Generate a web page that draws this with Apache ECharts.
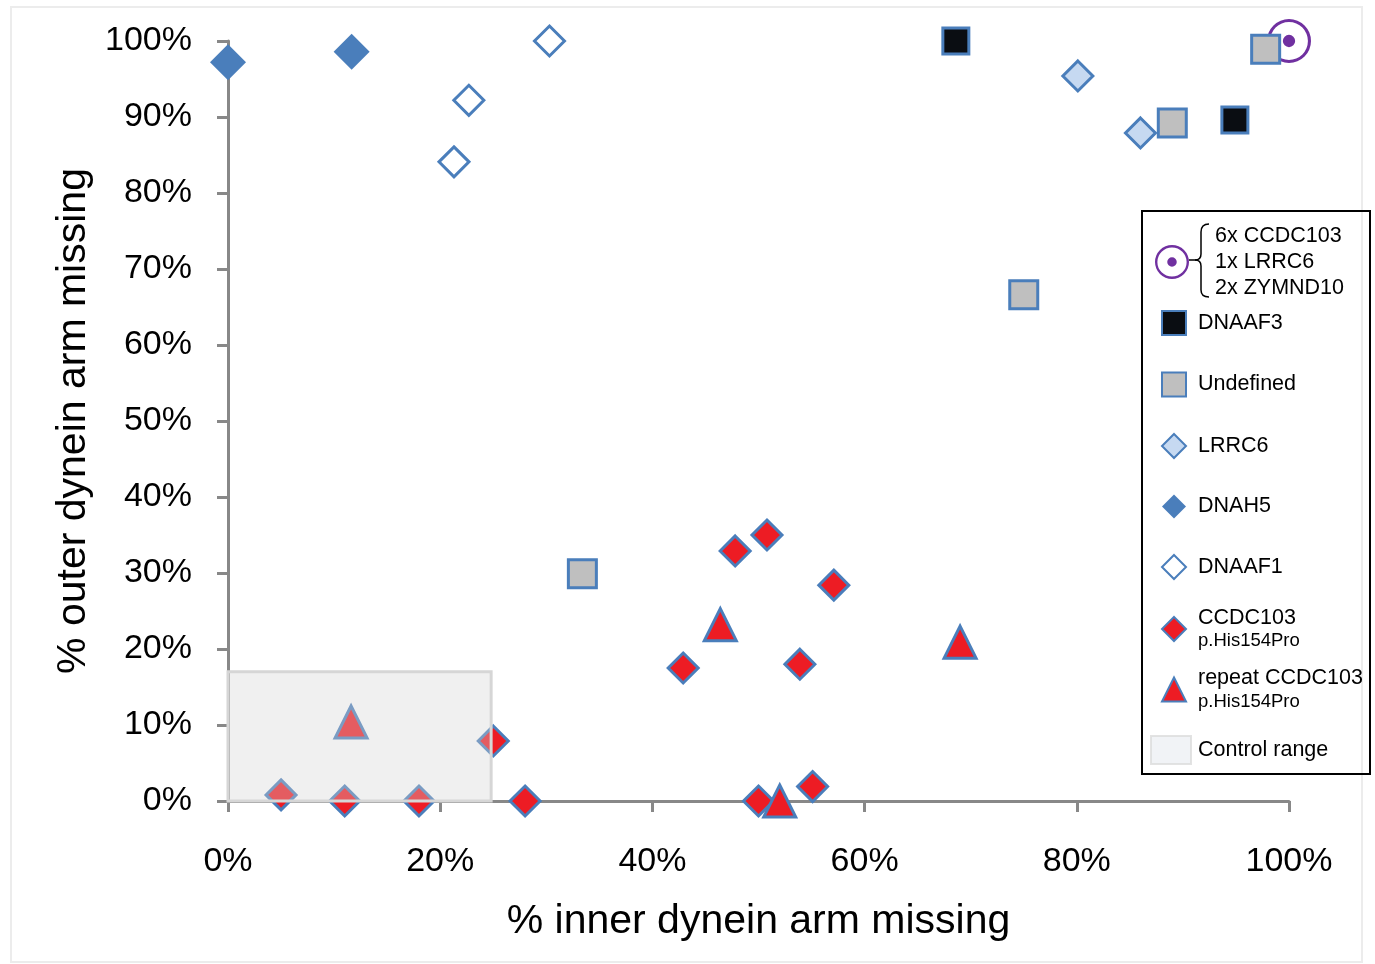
<!DOCTYPE html>
<html style="height: 100%">
<head>
<meta charset="utf-8">
</head>
<body style="height: 100%; margin: 0; background: #fff">
	<div id="container" style="width: 1375px; height: 964px"></div>
	<script type="text/javascript" src="https://cdn.jsdelivr.net/npm/echarts@6/dist/echarts.min.js"></script>
	<script type="text/javascript">
		// points as [inner % missing, outer % missing]
		var ringPts = [[100, 100]];
		var dnaaf3Pts = [[68.6, 100], [94.9, 89.6]];
		var undefinedPts = [[97.8, 98.9], [89.0, 89.2], [75.0, 66.6], [33.4, 29.9]];
		var lrrc6Pts = [[80.1, 95.4], [86.0, 87.9]];
		var dnah5Pts = [[0, 97.2], [11.65, 98.6]];
		var dnaaf1Pts = [[30.3, 100], [22.7, 92.2], [21.3, 84.1]];
		var ccdc103Pts = [[5.0, 0.8], [11.0, 0], [18.0, 0], [25.0, 7.9], [28.0, 0], [42.9, 17.5],
			[47.8, 32.9], [50.8, 35.0], [57.1, 28.4], [53.9, 18.0], [50.0, 0], [55.1, 1.9]];
		var repeatPts = [[11.6, 10.4], [46.4, 23.2], [69.0, 20.9], [52.0, 0]];
		var controlX = [0, 24.8];
		var controlY = [0, 17.0];
		var ringLines = ['6x CCDC103', '1x LRRC6', '2x ZYMND10'];

		var FONT = '"Liberation Sans", Arial, sans-serif';
		var BLUE = '#4a7ebb';
		var RED = '#ed1c24';
		var RING = 'path://M0,50 A50,50 0 1 1 100,50 A50,50 0 1 1 0,50 Z M7,50 A43,43 0 1 0 93,50 A43,43 0 1 0 7,50 Z M36,50 A14,14 0 1 1 64,50 A14,14 0 1 1 36,50 Z';

		var dom = document.getElementById("container");
		var myChart = echarts.init(dom);

		function scatter(name, data, symbol, size, color, border, z) {
			return {
				name: name,
				type: 'scatter',
				data: data,
				symbol: symbol,
				symbolSize: size,
				clip: false,
				z: z || 2,
				itemStyle: {
					color: color,
					borderColor: border === 'none' ? color : BLUE,
					borderWidth: border === 'none' ? 0 : 3,
					opacity: 1
				}
			};
		}

		var ccdcName = 'CCDC103 p.His154Pro';
		var repName = 'repeat CCDC103 p.His154Pro';
		var lineStyle = { fill: 'none', stroke: '#000', lineWidth: 1.5 };

		function legendText(rich) {
			return { color: '#000', fontFamily: FONT, rich: rich };
		}

		var option = {
			animation: false,
			backgroundColor: '#fff',
			textStyle: { fontFamily: FONT },
			grid: { left: 228, right: 86, top: 41, bottom: 163 },
			xAxis: {
				type: 'value', min: 0, max: 100, interval: 20,
				name: '% inner dynein arm missing', nameLocation: 'middle', nameGap: 100,
				nameTextStyle: { fontSize: 41, color: '#000', fontFamily: FONT },
				axisLine: { lineStyle: { color: '#888', width: 3 } },
				axisTick: { show: true, length: 11, lineStyle: { color: '#888', width: 3 } },
				axisLabel: { fontSize: 34, color: '#000', margin: 44, formatter: '{value}%' },
				splitLine: { show: false }
			},
			yAxis: {
				type: 'value', min: 0, max: 100, interval: 10,
				name: '% outer dynein arm missing', nameLocation: 'middle', nameGap: 133,
				nameTextStyle: { fontSize: 41, color: '#000', fontFamily: FONT },
				axisLine: { show: true, lineStyle: { color: '#888', width: 3 } },
				axisTick: { show: true, length: 11, lineStyle: { color: '#888', width: 3 } },
				axisLabel: { fontSize: 34, color: '#000', margin: 36, formatter: '{value}%' },
				splitLine: { show: false }
			},
			legend: [{
				// ring entry, bracket drawn below
				data: ['ring'],
				orient: 'vertical', left: 1155, top: 225, padding: 0,
				itemWidth: 34, itemHeight: 34, selectedMode: false,
				formatter: function () {
					return ringLines.map(function (t) { return '{r|' + t + '}'; }).join('\n');
				},
				textStyle: legendText({ r: { fontSize: 21.5, lineHeight: 26, color: '#000', fontFamily: FONT, padding: [0, 0, 0, 21] } })
			}, {
				data: ['DNAAF3', 'Undefined', 'LRRC6', 'DNAH5', 'DNAAF1'],
				orient: 'vertical', left: 1161, top: 310, padding: 0,
				itemWidth: 24, itemHeight: 24, itemGap: 35.5,
				formatter: function (name) { return '{s|' + name + '}'; },
				textStyle: legendText({ s: { fontSize: 21.5, lineHeight: 24, color: '#000', fontFamily: FONT, padding: [0, 0, 0, 7] } })
			}, {
				data: [ccdcName, repName],
				orient: 'vertical', left: 1161, top: 607, padding: 0,
				itemWidth: 24, itemHeight: 24, itemGap: 17,
				formatter: function (name) {
					var parts = name.split(' p.');
					return '{a|' + parts[0] + '}\n{b|p.' + parts[1] + '}';
				},
				textStyle: legendText({
					a: { fontSize: 21.5, lineHeight: 24, color: '#000', fontFamily: FONT, padding: [0, 0, 0, 7] },
					b: { fontSize: 18.5, lineHeight: 22, color: '#000', fontFamily: FONT, padding: [0, 0, 0, 7] }
				})
			}, {
				data: [{ name: 'Control range', icon: 'path://M0,0H40V28H0Z' }],
				orient: 'vertical', left: 1150, top: 735, padding: 0,
				itemWidth: 40, itemHeight: 28,
				formatter: function (name) { return '{s|' + name + '}'; },
				textStyle: legendText({ s: { fontSize: 21.5, lineHeight: 28, color: '#000', fontFamily: FONT, padding: [0, 0, 0, 2] } })
			}],
			graphic: [
				{ type: 'rect', shape: { x: 11, y: 7, width: 1351, height: 955 },
					style: { fill: 'none', stroke: '#ececec', lineWidth: 2 }, z: -1 },
				{ type: 'rect', shape: { x: 1142, y: 211, width: 228, height: 563 },
					style: { fill: 'none', stroke: '#000', lineWidth: 2 }, z: 20 },
				// bracket
				{ type: 'bezierCurve', z: 20, style: lineStyle,
					shape: { x1: 1209, y1: 224, x2: 1201, y2: 232, cpx1: 1201, cpy1: 224 } },
				{ type: 'line', z: 20, style: lineStyle,
					shape: { x1: 1201, y1: 232, x2: 1201, y2: 254 } },
				{ type: 'bezierCurve', z: 20, style: lineStyle,
					shape: { x1: 1201, y1: 254, x2: 1195, y2: 260, cpx1: 1201, cpy1: 260 } },
				{ type: 'bezierCurve', z: 20, style: lineStyle,
					shape: { x1: 1195, y1: 260, x2: 1201, y2: 266, cpx1: 1201, cpy1: 260 } },
				{ type: 'line', z: 20, style: lineStyle,
					shape: { x1: 1201, y1: 266, x2: 1201, y2: 290 } },
				{ type: 'bezierCurve', z: 20, style: lineStyle,
					shape: { x1: 1201, y1: 290, x2: 1209, y2: 297, cpx1: 1201, cpy1: 297 } },
				{ type: 'line', z: 20, style: lineStyle,
					shape: { x1: 1189, y1: 260, x2: 1195, y2: 260 } }
			],
			series: [
				scatter('ring', ringPts, RING, 44, '#7030a0', 'none', 1),
				scatter('DNAAF3', dnaaf3Pts, 'rect', 26, '#0a0d12'),
				scatter('Undefined', undefinedPts, 'rect', 28, '#bfbfbf'),
				scatter('LRRC6', lrrc6Pts, 'diamond', 30, '#c6d9f1'),
				scatter('DNAH5', dnah5Pts, 'diamond', 36, BLUE, 'none'),
				scatter('DNAAF1', dnaaf1Pts, 'diamond', 30, '#fff'),
				scatter(ccdcName, ccdc103Pts, 'diamond', 30, RED),
				scatter(repName, repeatPts, 'triangle', 32, RED),
				{
					name: 'Control range',
					type: 'scatter',
					data: [],
					symbol: 'rect',
					itemStyle: { color: '#eef0f4', borderColor: '#dcdcdc', borderWidth: 2 },
					markArea: {
						z: 5,
						silent: true,
						itemStyle: { color: 'rgba(212,212,212,0.35)', borderColor: '#d6d6d6', borderWidth: 3 },
						data: [[{ coord: [controlX[0], controlY[0]] }, { coord: [controlX[1], controlY[1]] }]]
					}
				}
			]
		};
		myChart.setOption(option);
	</script>
</body>
</html>
